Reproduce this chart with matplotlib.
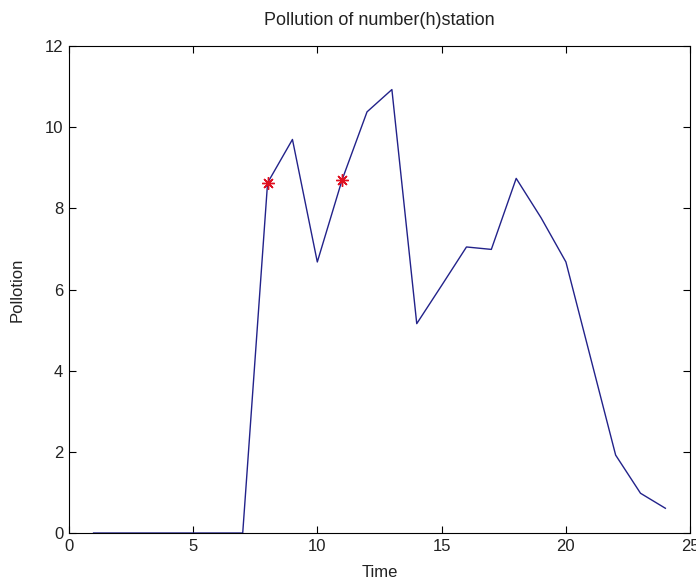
import matplotlib
matplotlib.use("Agg")
import matplotlib.pyplot as plt

hours = list(range(1, 25))
pollution = [0, 0, 0, 0, 0, 0, 0, 8.63, 9.70, 6.68, 8.71, 10.38, 10.93, 5.16,
             6.10, 7.05, 6.99, 8.74, 7.77, 6.68, 4.30, 1.92, 0.98, 0.61]
marked_hours = [8, 11]
marked_values = [8.63, 8.71]
xticks = [0, 5, 10, 15, 20, 25]
yticks = [0, 2, 4, 6, 8, 10, 12]

plt.rcParams['font.family'] = ['Liberation Sans', 'DejaVu Sans']
tick_fs, lab_fs = 12, 12

fig = plt.figure(figsize=(6.96, 5.81), dpi=100)
ax = fig.add_axes([0.0987, 0.0826, 0.893, 0.838])
ax.plot(hours, pollution, color='#22228a', linewidth=1.0)
ax.plot(marked_hours, marked_values, linestyle='none', marker=(8, 2, 0), color='#e01020',
        markersize=9, markeredgewidth=1.0)
ax.set_xlim(0, 25)
ax.set_ylim(0, 12)
ax.set_xticks(xticks)
ax.set_yticks(yticks)
ax.tick_params(direction='in', top=True, right=True, length=5, labelsize=tick_fs,
               labelcolor='#222222', width=0.8, pad=4)
for s in ax.spines.values():
    s.set_linewidth(0.8)
ax.set_title('Pollution of number(h)station', fontsize=13, color='#222222', pad=15)
ax.set_xlabel('Time', fontsize=lab_fs, color='#222222', labelpad=8)
ax.set_ylabel('Pollotion', fontsize=lab_fs, color='#222222', labelpad=14)
fig.savefig('out.png', dpi=100)
